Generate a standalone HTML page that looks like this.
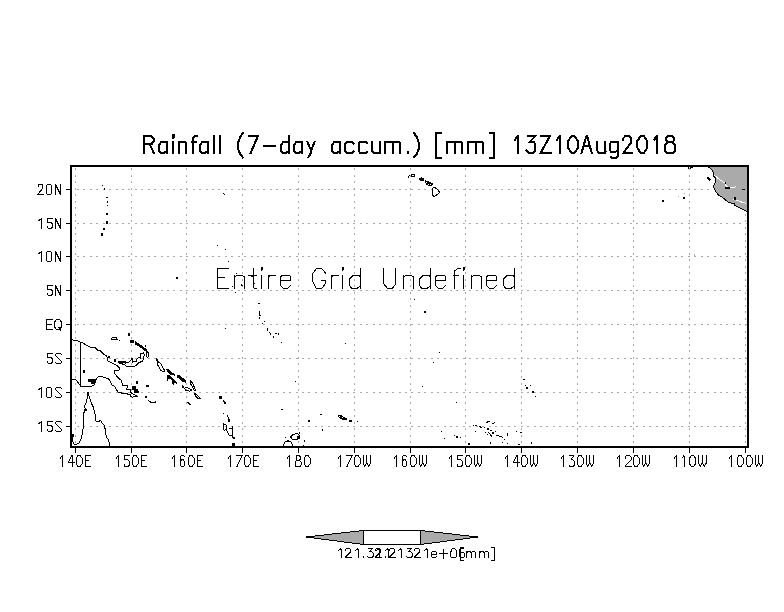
<!DOCTYPE html><html><head><meta charset="utf-8"><style>html,body{margin:0;padding:0;background:#fff;width:784px;height:612px;overflow:hidden}</style></head><body><svg width="784" height="612" viewBox="0 0 784 612" style="display:block" shape-rendering="crispEdges">
<rect x="0" y="0" width="784" height="612" fill="#fff"/>
<path d="M75.5,168V446M131.5,168V446M186.5,168V446M242.5,168V446M298.5,168V446M354.5,168V446M410.5,168V446M465.5,168V446M521.5,168V446M577.5,168V446M633.5,168V446M689.5,168V446M745.5,168V446" stroke="#aaaaaa" stroke-width="1" stroke-dasharray="2 4.5" fill="none"/>
<path d="M77,189.5H747M77,223.5H747M77,256.5H747M77,290.5H747M77,324.5H747M77,358.5H747M77,392.5H747M77,426.5H747" stroke="#aaaaaa" stroke-width="1" stroke-dasharray="2 4.43" fill="none"/>
<polygon points="708.3,166.8 710.3,168.4 712.6,170.7 713.4,173.1 713.8,176.2 715.8,178.5 715.4,181.7 714.6,184 713.4,186.4 714.2,188.7 715.8,191.9 718.5,195 722,197 725.2,199.7 728.3,202.1 732.2,203.3 734.2,203.6 734.6,205.2 737.7,206.8 741.6,208.7 745.6,210.7 746.7,212.3 748,212 748,166 708,166" fill="#aaaaaa" stroke="none"/>
<polyline points="708.3,166.8 710.3,168.4 712.6,170.7 713.4,173.1 713.8,176.2 715.8,178.5 715.4,181.7 714.6,184 713.4,186.4 714.2,188.7 715.8,191.9 718.5,195 722,197 725.2,199.7 728.3,202.1 732.2,203.3 734.2,203.6 734.6,205.2 737.7,206.8 741.6,208.7 745.6,210.7 746.7,212.3" fill="none" stroke="#000" stroke-width="1"/>
<polyline points="714.5,175.4 718.1,178.5 725.2,183.3 726,185.6 728.3,187.6 730.7,187.6 736.2,186.8" fill="none" stroke="#fff" stroke-width="1"/>
<polyline points="733,198.9 740,201.5 746.4,203.6" fill="none" stroke="#fff" stroke-width="1"/>
<polyline points="707.5,177.5 710.5,180.5" fill="none" stroke="#000" stroke-width="2"/>
<rect x="724.5" y="182" width="1" height="2" fill="#000"/><rect x="725" y="187" width="5" height="1.5" fill="#000"/><rect x="741.5" y="188.5" width="3.5" height="1" fill="#000"/><rect x="733.5" y="196.5" width="2" height="3" fill="#000"/>
<g fill="#000"><rect x="688" y="167" width="1" height="2"/><rect x="690" y="167" width="1" height="2"/><rect x="691" y="167" width="1" height="1"/><rect x="692" y="167" width="1" height="1"/></g>
<g fill="#aaaaaa"><rect x="678" y="196" width="1" height="1"/><rect x="684" y="193" width="1" height="1"/><rect x="694" y="254" width="1" height="2"/></g>
<path d="M72.0,339.0L73.3,340.4L77.2,340.7L79.8,342.0L82.4,342.3L85.0,344.3L88.3,346.2L91.6,347.5L94.8,347.5L97.5,350.2L100.4,350.8L103.3,353.8L106.6,356.0L107.3,358.0L107.3,360.7L109.9,361.9L116.1,364.9L119.5,368.0L119.5,369.9L114.5,370.7L114.5,373.4L117.6,377.2L121.6,380.8L122.1,383.0L122.9,385.7L127.4,385.7L126.7,389.3L130.1,389.7L130.5,392.4L131.9,393.3L134.0,394.5L137.7,396.4M72.0,379.7L75.9,379.7L81.2,386.8L85.3,386.8L91.2,386.8L94.7,384.4L95.9,379.7L98.2,376.8L100.0,376.0L103.8,377.2L108.4,378.7L110.0,380.8L111.8,384.8L114.0,385.7L117.6,391.5L118.9,392.6L126.5,393.8L130.5,394.6L131.0,396.4L132.5,397.3L135.0,396.0L137.7,396.4M80.6,342.3L80.6,386.8M72.5,436.0L72.5,441.4L73.9,443.9L76.4,444.4L79.3,442.9L81.3,438.0L82.7,432.1L83.7,423.3L83.2,416.4L84.2,411.5L85.2,409.1L84.7,406.1L86.2,402.7L87.2,397.8L87.5,392.4L88.1,393.9L89.6,397.8L91.1,402.7L93.5,407.6L95.0,413.5L96.0,421.3L98.4,421.8L100.4,420.4L102.4,423.3L104.8,425.7L105.3,432.1L106.8,438.0L108.7,440.0L109.7,445.8M118.3,361.5L125.6,361.5L126.3,362.4L129.4,361.9L131.3,359.6L131.7,358.2L132.5,358.4L132.1,362.2L133.6,361.5L136.3,361.1L137.4,358.4L139.0,357.7L140.5,358.0L140.1,353.8L143.6,352.7L144.3,355.0L143.6,358.0L142.8,360.7L142.0,361.5L139.0,362.6L136.3,365.3L133.2,366.8L128.2,366.8L125.6,365.7L123.7,364.2L120.6,363.8L118.3,362.6L118.3,361.5M118.5,362.5L125.0,362.5L126.0,363.5M119.0,363.2L123.0,363.2M139.0,357.2L140.0,357.2M135.2,341.6L137.4,343.5L139.7,344.6L142.9,346.8L145.6,349.2L148.2,352.2M135.2,342.6L137.4,344.5L139.7,345.6L142.9,347.8L145.3,350.2L147.7,352.6M135.2,343.6L137.0,345.2L139.5,346.4L142.5,348.6L145.0,351.0M146.5,352.0L148.5,352.5L148.7,356.8L147.0,357.2L146.3,355.0L146.5,352.0M111.0,338.5L113.0,337.4L116.5,337.5L117.0,339.2L112.5,339.8L111.0,338.5M156.5,358.2L157.5,364.6L160.9,370.5L163.3,372.0L164.8,371.0L160.9,363.6L157.9,361.7L156.5,358.2M184.4,388.2L187.0,387.2L191.8,390.2L190.0,391.1L186.0,390.5L184.4,388.2M190.3,380.3L193.0,384.0L195.7,390.6L194.0,390.0L191.0,384.5L190.3,380.3M194.2,393.0L197.0,395.0L200.6,398.4L198.0,398.6L195.5,396.0L194.2,393.0M148.3,400.3L151.0,402.5L156.0,402.0M186.6,401.6L191.0,404.8M187.4,401.9L190.3,404.8M223.0,400.3L225.5,403.3M227.3,415.2L229.0,419.5L228.7,421.0M223.1,423.2L226.4,425.5L226.8,429.3L224.0,430.2L223.1,427.4L223.1,423.2M226.4,430.2L229.6,435.8L233.4,434.9M229.2,428.8L232.9,428.8M232.4,425.5L232.4,434.9M232.0,436.7L234.8,439.0M259.5,311.2L259.5,315.2L260.8,315.7M269.3,331.9L271.1,335.4M338.1,415.5L340.0,415.8L342.0,418.0L346.8,419.5M338.5,416.5L341.0,418.5L345.0,419.8M349.0,421.2L351.9,421.2M290.5,437.0L293.0,434.5L297.0,433.3L299.7,436.0L298.0,439.0L292.0,439.0L290.5,437.0M283.0,446.0L285.0,442.0L288.0,440.8L291.0,442.0L292.8,446.0M408.1,177.7L409.7,175.1M411.0,174.5L414.8,174.1L414.0,176.6L411.0,176.6L411.0,174.5M433.4,187.3L436.7,188.4L439.8,192.4L437.2,194.5L434.1,196.5L432.6,195.5L432.6,189.4L433.4,187.3M496.5,435.3L502.8,437.4M489.5,433.2L492.4,437.4M479.1,426.2L482.0,427.9M486.2,422.5L489.9,421.2M492.4,424.1L494.9,422.0M340.0,415.0L346.5,419.0M349.0,420.8L352.0,420.8" fill="none" stroke="#000" stroke-width="1"/>
<g fill="#000"><rect x="128" y="333" width="2" height="3"/><rect x="114" y="359" width="2" height="3"/><rect x="82.7" y="370" width="2" height="3"/><rect x="136" y="381" width="2" height="3"/><rect x="146" y="385" width="3" height="2"/><rect x="145" y="396" width="2" height="1"/><rect x="88" y="379" width="7" height="3"/><rect x="91" y="381" width="4" height="3"/><rect x="108" y="355.7" width="2" height="2"/><rect x="130" y="340" width="4" height="3"/><rect x="145" y="345" width="1" height="2"/><rect x="119" y="340" width="1" height="1"/><rect x="182" y="385.5" width="2" height="2"/><rect x="132" y="386" width="4" height="4"/><rect x="134" y="389" width="4" height="4"/><rect x="136" y="391" width="3" height="2"/><rect x="146" y="385.5" width="1" height="1"/><rect x="145" y="396.5" width="2" height="1"/><rect x="155" y="401" width="1" height="1"/><rect x="182" y="385" width="1" height="1"/><rect x="219" y="396" width="3" height="3"/><rect x="224" y="402" width="2" height="2"/><rect x="223" y="413" width="1" height="1"/><rect x="228" y="420" width="2" height="2"/><rect x="232" y="443" width="3" height="3"/><rect x="232.5" y="437" width="2" height="2"/><rect x="102" y="185" width="1" height="1"/><rect x="104" y="188" width="1" height="2"/><rect x="106" y="197" width="2" height="1"/><rect x="107" y="201" width="1" height="2"/><rect x="107" y="205" width="1" height="1"/><rect x="106" y="213" width="2" height="2"/><rect x="106" y="221" width="2" height="3"/><rect x="103" y="228" width="2" height="2"/><rect x="101" y="233" width="2" height="3"/><rect x="176" y="277" width="2" height="2"/><rect x="217" y="245" width="1" height="1"/><rect x="225" y="249" width="1" height="1"/><rect x="228" y="261" width="1" height="1"/><rect x="235" y="292" width="1" height="1"/><rect x="228" y="261" width="1" height="1"/><rect x="222.5" y="192.5" width="1" height="1"/><rect x="223.5" y="193.5" width="1" height="1"/><rect x="232" y="286" width="1" height="1"/><rect x="251" y="275" width="3" height="2"/><rect x="254" y="283" width="1" height="1"/><rect x="236" y="273" width="1" height="1"/><rect x="240.5" y="283.5" width="1" height="2"/><rect x="241.5" y="284.5" width="1" height="1"/><rect x="258" y="303" width="2" height="1"/><rect x="259" y="317" width="1" height="2"/><rect x="262" y="323" width="1" height="1"/><rect x="264" y="321" width="1" height="1"/><rect x="267" y="328" width="1" height="3"/><rect x="273" y="336" width="1" height="2"/><rect x="275" y="333" width="2" height="1"/><rect x="278" y="333" width="1" height="2"/><rect x="280.5" y="342" width="1" height="1"/><rect x="225" y="328" width="1" height="1"/><rect x="345" y="343" width="1" height="1"/><rect x="294.5" y="381" width="1" height="1"/><rect x="282" y="409" width="1" height="1"/><rect x="320" y="414" width="2" height="1"/><rect x="308" y="420" width="2" height="2"/><rect x="322" y="429" width="1" height="2"/><rect x="281" y="409" width="2" height="1"/><rect x="356.5" y="420.5" width="1" height="1"/><rect x="297" y="436" width="3" height="3"/><rect x="299" y="432" width="1" height="2"/><rect x="284.5" y="437" width="1" height="1"/><rect x="304" y="440" width="1" height="2"/><rect x="303" y="445" width="1" height="1"/><rect x="419" y="178" width="5" height="2"/><rect x="421" y="177" width="1" height="1"/><rect x="420" y="180" width="4" height="1"/><rect x="425" y="180" width="1" height="3"/><rect x="426" y="181" width="3" height="2"/><rect x="427" y="182" width="4" height="1"/><rect x="426" y="183" width="7" height="2"/><rect x="428" y="185" width="4" height="1"/><rect x="414" y="298.5" width="1" height="1"/><rect x="424" y="311" width="2" height="2"/><rect x="344.5" y="343" width="1" height="1"/><rect x="438.5" y="351.5" width="1" height="1"/><rect x="432.5" y="362" width="1" height="1"/><rect x="421.5" y="385.5" width="1" height="1"/><rect x="455.5" y="402" width="1" height="1"/><rect x="440.5" y="431" width="1" height="1"/><rect x="443.5" y="438" width="1" height="1"/><rect x="453.5" y="434.5" width="1" height="1"/><rect x="456" y="436" width="2" height="2"/><rect x="460" y="437" width="1" height="1"/><rect x="467.5" y="443" width="2" height="2"/><rect x="523" y="378.5" width="2" height="1"/><rect x="525" y="384.5" width="1" height="1"/><rect x="530" y="384.5" width="1" height="1"/><rect x="526" y="386.5" width="2" height="2"/><rect x="531.5" y="390.5" width="2" height="2"/><rect x="535" y="395.5" width="1" height="1"/><rect x="473" y="425" width="1" height="1"/><rect x="475" y="425" width="2" height="1"/><rect x="475" y="431" width="1" height="1"/><rect x="484" y="427" width="1" height="1"/><rect x="486.5" y="428" width="2" height="2"/><rect x="489.5" y="429.5" width="2" height="1"/><rect x="485" y="431.5" width="1" height="1"/><rect x="488" y="432" width="1" height="1"/><rect x="492" y="431.5" width="2" height="2"/><rect x="495" y="430.5" width="1" height="1"/><rect x="486.5" y="433.5" width="1" height="1"/><rect x="504" y="439" width="1" height="1"/><rect x="507" y="432.5" width="1" height="3"/><rect x="516" y="431" width="1" height="1"/><rect x="519.5" y="432" width="2" height="1"/><rect x="490" y="441.5" width="1" height="2"/><rect x="502" y="442" width="1" height="1"/><rect x="507" y="443" width="1" height="1"/><rect x="517.5" y="444" width="2" height="1"/><rect x="530.5" y="441.5" width="1" height="2"/><rect x="661.5" y="199.5" width="2" height="2"/><rect x="683" y="196.5" width="2" height="2"/><rect x="72" y="434" width="2" height="3"/><rect x="84.5" y="409" width="2" height="2"/><rect x="87" y="392" width="2" height="2"/><polygon points="166.3,368.8 169,369.5 171,372 174.8,373.8 174.8,375.8 170.5,374.5 167,371.5"/><polygon points="167.3,375 169.5,375.2 173.5,378.5 176.9,382.2 176.5,383.5 174,383 173.5,384.6 172.5,384 171.5,380 168.5,378.5 168,380.8 167,380.5"/><polygon points="176.9,375 179.5,375 183,378 186.9,380.8 185.5,382.8 182.5,381.5 179,378.5 176.9,377.5"/></g>
<g fill="#fff"><rect x="426" y="182" width="1" height="1"/><rect x="428" y="184" width="1" height="1"/><rect x="430" y="184" width="1" height="1"/></g>
<rect x="71" y="166" width="677" height="281" fill="none" stroke="#000" stroke-width="2"/>
<path d="M75.5,448V453M131.5,448V453M186.5,448V453M242.5,448V453M298.5,448V453M354.5,448V453M410.5,448V453M465.5,448V453M521.5,448V453M577.5,448V453M633.5,448V453M689.5,448V453M745.5,448V453M66,189.5H70M66,223.5H70M66,256.5H70M66,290.5H70M66,324.5H70M66,358.5H70M66,392.5H70M66,426.5H70" stroke="#000" stroke-width="1" fill="none"/>
<path d="M60.50,457.92L62.50,455.50V466.50M72.00,466.50V455.50L68.00,462.65H74.50M78.00,455.50H80.00L82.00,458.25V463.75L80.00,466.50H78.00L76.00,463.75V458.25ZM90.50,455.50H85.00V466.50H90.50M85.00,460.45H88.50M116.50,457.92L118.50,455.50V466.50M129.00,455.50H124.00V459.90H128.00L129.00,461.00V465.40L128.00,466.50H125.00L124.00,465.40V464.30M134.00,455.50H136.00L138.00,458.25V463.75L136.00,466.50H134.00L132.00,463.75V458.25ZM146.50,455.50H141.00V466.50H146.50M141.00,460.45H144.50M172.50,457.92L174.50,455.50V466.50M184.50,456.60L183.50,455.50H181.50L180.00,457.15V464.85L181.50,466.50H183.50L184.50,464.85V461.55L183.50,459.90H181.50L180.00,461.00M190.00,455.50H192.00L194.00,458.25V463.75L192.00,466.50H190.00L188.00,463.75V458.25ZM202.50,455.50H197.00V466.50H202.50M197.00,460.45H200.50M228.50,457.92L230.50,455.50V466.50M236.00,455.50H242.00V456.05L237.00,466.50M246.00,455.50H248.00L250.00,458.25V463.75L248.00,466.50H246.00L244.00,463.75V458.25ZM258.50,455.50H253.00V466.50H258.50M253.00,460.45H256.50M287.50,457.92L289.50,455.50V466.50M297.00,455.50H299.00L300.00,456.60V459.35L299.00,460.45H297.00L296.00,459.35V456.60ZM296.50,460.45H299.50L301.00,462.10V465.18L300.00,466.50H296.00L295.00,465.18V462.10ZM306.00,455.50H308.00L310.00,458.25V463.75L308.00,466.50H306.00L304.00,463.75V458.25ZM338.50,457.92L340.50,455.50V466.50M346.00,455.50H352.00V456.05L347.00,466.50M356.00,455.50H358.00L360.00,458.25V463.75L358.00,466.50H356.00L354.00,463.75V458.25ZM363.00,455.50V462.65L364.90,466.50L366.90,462.65V455.50M366.90,462.65L368.90,466.50L370.90,462.65V455.50M394.50,457.92L396.50,455.50V466.50M406.50,456.60L405.50,455.50H403.50L402.00,457.15V464.85L403.50,466.50H405.50L406.50,464.85V461.55L405.50,459.90H403.50L402.00,461.00M412.00,455.50H414.00L416.00,458.25V463.75L414.00,466.50H412.00L410.00,463.75V458.25ZM419.00,455.50V462.65L420.90,466.50L422.90,462.65V455.50M422.90,462.65L424.90,466.50L426.90,462.65V455.50M449.50,457.92L451.50,455.50V466.50M462.00,455.50H457.00V459.90H461.00L462.00,461.00V465.40L461.00,466.50H458.00L457.00,465.40V464.30M467.00,455.50H469.00L471.00,458.25V463.75L469.00,466.50H467.00L465.00,463.75V458.25ZM474.00,455.50V462.65L475.90,466.50L477.90,462.65V455.50M477.90,462.65L479.90,466.50L481.90,462.65V455.50M505.50,457.92L507.50,455.50V466.50M517.00,466.50V455.50L513.00,462.65H519.50M523.00,455.50H525.00L527.00,458.25V463.75L525.00,466.50H523.00L521.00,463.75V458.25ZM530.00,455.50V462.65L531.90,466.50L533.90,462.65V455.50M533.90,462.65L535.90,466.50L537.90,462.65V455.50M561.50,457.92L563.50,455.50V466.50M569.50,455.50H574.00L571.00,459.35H572.50L574.50,461.55V464.85L573.00,466.50H570.00L569.00,464.85M579.00,455.50H581.00L583.00,458.25V463.75L581.00,466.50H579.00L577.00,463.75V458.25ZM586.00,455.50V462.65L587.90,466.50L589.90,462.65V455.50M589.90,462.65L591.90,466.50L593.90,462.65V455.50M617.50,457.92L619.50,455.50V466.50M625.00,458.25V457.15L626.50,455.50H629.50L631.00,457.15V459.90L625.00,465.95V466.50H631.50M635.00,455.50H637.00L639.00,458.25V463.75L637.00,466.50H635.00L633.00,463.75V458.25ZM642.00,455.50V462.65L643.90,466.50L645.90,462.65V455.50M645.90,462.65L647.90,466.50L649.90,462.65V455.50M674.50,457.92L676.50,455.50V466.50M682.00,457.92L684.00,455.50V466.50M691.50,455.50H693.50L695.50,458.25V463.75L693.50,466.50H691.50L689.50,463.75V458.25ZM698.50,455.50V462.65L700.40,466.50L702.40,462.65V455.50M702.40,462.65L704.40,466.50L706.40,462.65V455.50M729.50,457.92L731.50,455.50V466.50M739.00,455.50H741.00L743.00,458.25V463.75L741.00,466.50H739.00L737.00,463.75V458.25ZM748.00,455.50H750.00L752.00,458.25V463.75L750.00,466.50H748.00L746.00,463.75V458.25ZM755.00,455.50V462.65L756.90,466.50L758.90,462.65V455.50M758.90,462.65L760.90,466.50L762.90,462.65V455.50" fill="none" stroke="#000" stroke-width="1" stroke-linejoin="miter" stroke-miterlimit="1.5" stroke-linecap="square"/>
<path d="M38.50,186.50V184.50H42.50V188.50L38.50,193.50L37.50,194.50H43.50M47.50,184.50H50.50L51.50,185.50V193.50L50.50,194.50H47.50L46.50,193.50V185.50ZM55.50,194.50V184.50L60.50,194.50V184.50M39.00,220.50L41.50,218.50V228.50M52.00,218.50H47.50V222.50H51.00L52.00,223.50V227.50L51.00,228.50H48.50L47.50,227.50V226.50M55.50,228.50V218.50L60.50,228.50V218.50M39.00,253.50L41.50,251.50V261.50M47.50,251.50H50.50L51.50,252.50V260.50L50.50,261.50H47.50L46.50,260.50V252.50ZM55.50,261.50V251.50L60.50,261.50V251.50M52.00,285.50H47.50V289.50H51.00L52.00,290.50V294.50L51.00,295.50H48.50L47.50,294.50V293.50M55.50,295.50V285.50L60.50,295.50V285.50M52.50,319.50H46.50V329.50H52.50M46.50,324.50H51.00M56.50,319.50H59.50L61.50,322.00V327.00L59.50,329.50H56.50L54.50,327.00V322.00ZM59.00,327.50L60.50,330.30M52.00,353.50H47.50V357.50H51.00L52.00,358.50V362.50L51.00,363.50H48.50L47.50,362.50V361.50M61.50,354.50L60.50,353.50H56.50L55.50,354.50V355.50L56.50,356.50L60.50,360.50L61.50,361.50V362.50L60.50,363.50H56.50L55.50,362.50M39.00,389.50L41.50,387.50V397.50M47.50,387.50H50.50L51.50,388.50V396.50L50.50,397.50H47.50L46.50,396.50V388.50ZM61.50,388.50L60.50,387.50H56.50L55.50,388.50V389.50L56.50,390.50L60.50,394.50L61.50,395.50V396.50L60.50,397.50H56.50L55.50,396.50M39.00,423.50L41.50,421.50V431.50M52.00,421.50H47.50V425.50H51.00L52.00,426.50V430.50L51.00,431.50H48.50L47.50,430.50V429.50M61.50,422.50L60.50,421.50H56.50L55.50,422.50V423.50L56.50,424.50L60.50,428.50L61.50,429.50V430.50L60.50,431.50H56.50L55.50,430.50" fill="none" stroke="#000" stroke-width="1" stroke-linejoin="miter" stroke-miterlimit="1.5" stroke-linecap="square"/>
<path d="M144.00,153.00V136.00H150.63L153.52,138.04V141.44L151.65,143.99H144.00M149.61,144.33L153.86,153.00M166.99,141.95V153.00M166.99,143.31L165.80,141.95H161.38L159.00,145.01V150.45L160.53,153.00H164.10L166.99,150.96M173.00,141.95V153.00M173.00,134.81V137.53M173.68,135.49V136.85M179.00,141.95V153.00M179.00,143.65L180.36,141.95H184.78L185.97,143.14V153.00M192.85,153.00V138.21L195.06,136.00H196.93M192.00,141.95H195.57M207.99,141.95V153.00M207.99,143.31L206.80,141.95H202.38L200.00,145.01V150.45L201.53,153.00H205.10L207.99,150.96M214.00,136.00V153.00M220.00,136.00V153.00M242.93,132.94L240.04,137.36L238.00,142.80V148.58L240.04,153.68L242.93,157.42M249.00,136.00H257.50V137.02L250.70,153.00M263.70,146.03H274.75M288.99,136.00V153.00M288.99,143.31L287.80,141.95H283.38L281.00,145.01V150.45L282.53,153.00H286.10L288.99,150.96M301.99,141.95V153.00M301.99,143.31L300.80,141.95H296.38L294.00,145.01V150.45L295.53,153.00H299.10L301.99,150.96M307.40,141.95L311.14,150.62M314.54,141.95L311.14,150.62L310.12,155.21L308.08,157.42M339.99,141.95V153.00M339.99,143.31L338.80,141.95H334.38L332.00,145.01V150.45L333.53,153.00H337.10L339.99,150.96M353.50,143.31L352.31,141.95H346.70L345.00,144.16V150.45L346.70,153.00H352.31L353.50,151.64M367.00,143.31L365.81,141.95H360.20L358.50,144.16V150.45L360.20,153.00H365.81L367.00,151.64M372.00,141.95V150.96L373.70,153.00H378.46L379.99,151.64M379.99,141.95V153.00M385.00,141.95V153.00M385.00,143.31L386.19,141.95H391.80L392.99,143.14V153.00M392.99,143.14L394.18,141.95H398.77L399.96,143.14V153.00M407.50,151.81V153.00M414.00,132.94L416.89,137.36L418.93,142.80V148.58L416.89,153.68L414.00,157.42M440.93,132.94H436.00V157.93H440.93M447.00,141.95V153.00M447.00,143.31L448.19,141.95H453.80L454.99,143.14V153.00M454.99,143.14L456.18,141.95H460.77L461.96,143.14V153.00M468.00,141.95V153.00M468.00,143.31L469.19,141.95H474.80L475.99,143.14V153.00M475.99,143.14L477.18,141.95H481.77L482.96,143.14V153.00M490.20,132.94H494.11V157.93H490.20M515.00,139.74L517.55,136.00M517.55,136.00V153.00M527.86,136.00H535.34L529.56,142.12H533.81L535.34,144.16V150.62L533.30,153.00H528.71L526.50,150.28M540.94,136.00H549.95L540.60,153.00H550.63M557.00,139.74L559.55,136.00M559.55,136.00V153.00M571.40,136.00H574.63L578.03,141.10V147.90L574.63,153.00H571.40L568.00,147.90V141.10ZM581.50,153.00L586.43,136.00H587.11L591.70,153.00M583.54,146.20H589.66M597.40,141.95V150.96L599.10,153.00H603.86L605.39,151.64M605.39,141.95V153.00M617.93,141.95V156.06L616.40,157.93H612.32L611.13,156.74M617.93,143.31L616.74,141.95H611.30L609.60,144.16V149.94L611.30,152.15H615.04L617.93,150.45M623.40,140.42V138.21L625.27,136.00H629.18L631.05,138.21V142.46L623.40,153.00H631.73M640.70,136.00H643.93L647.33,141.10V147.90L643.93,153.00H640.70L637.30,147.90V141.10ZM654.20,139.74L656.75,136.00M656.75,136.00V153.00M667.68,136.00H672.44L673.97,137.70V140.42L672.44,142.12H667.68L666.15,140.42V137.70ZM667.68,142.12H672.44L674.82,144.84V150.96L673.12,153.00H667.00L665.30,150.96V144.84Z" fill="none" stroke="#000" stroke-width="2" stroke-linejoin="miter" stroke-miterlimit="4" stroke-linecap="square"/>
<path d="M228.54,268.50H217.50V288.50H228.54M217.50,277.50H224.94M234.50,275.50V288.50M234.50,277.50L236.42,275.50H242.66L244.34,276.90V288.50M253.54,268.50V287.50L254.74,288.50H256.66M248.50,275.40H256.66M261.50,275.50V288.50M261.50,267.10V270.30M262.46,267.90V269.50M268.50,275.10V288.50M268.50,277.50L269.94,275.40H275.94M280.50,280.50H290.82V277.10L289.14,275.40H282.18L280.50,277.10V285.50L283.38,288.50H287.46L290.82,285.30M325.94,273.70L321.86,268.50H316.58L312.50,273.90V281.10L316.10,288.50H321.86L325.94,282.90V280.30H321.14M331.50,275.10V288.50M331.50,277.50L332.94,275.40H338.94M342.50,275.50V288.50M342.50,267.10V270.30M343.46,267.90V269.50M360.78,268.50V288.50M360.78,277.10L359.10,275.50H352.86L349.50,279.10V285.50L351.66,288.50H356.70L360.78,286.10M383.50,268.50V283.50L387.58,288.50H392.14L395.98,283.50V268.50M403.50,275.50V288.50M403.50,277.50L405.42,275.50H411.66L413.34,276.90V288.50M430.78,268.50V288.50M430.78,277.10L429.10,275.50H422.86L419.50,279.10V285.50L421.66,288.50H426.70L430.78,286.10M435.50,280.50H445.82V277.10L444.14,275.40H437.18L435.50,277.10V285.50L438.38,288.50H442.46L445.82,285.30M454.50,288.50V271.10L457.62,268.50H460.26M453.30,275.50H458.34M463.50,275.50V288.50M463.50,267.10V270.30M464.46,267.90V269.50M471.50,275.50V288.50M471.50,277.50L473.42,275.50H479.66L481.34,276.90V288.50M486.50,280.50H496.82V277.10L495.14,275.40H488.18L486.50,277.10V285.50L489.38,288.50H493.46L496.82,285.30M514.78,268.50V288.50M514.78,277.10L513.10,275.50H506.86L503.50,279.10V285.50L505.66,288.50H510.70L514.78,286.10" fill="none" stroke="#000" stroke-width="1" stroke-linejoin="miter" stroke-miterlimit="1.5" stroke-linecap="square"/>
<polygon points="306,537 363.5,530.5 363.5,544.5" fill="#aaaaaa" stroke="#000" stroke-width="1"/>
<polygon points="478,537 420.5,530.5 420.5,544.5" fill="#aaaaaa" stroke="#000" stroke-width="1"/>
<rect x="363.5" y="530.5" width="57" height="14" fill="#fff" stroke="#000" stroke-width="1"/>
<path d="M338.50,550.50L341.00,548.50V557.50M345.50,550.50V549.50L346.50,548.50H349.50L350.50,549.50V552.00L345.50,557.00V557.50H351.50M355.50,550.50L358.00,548.50V557.50M363.50,556.80V557.50M368.00,548.50H372.50L369.50,551.50H371.50L373.00,553.00V556.50L372.00,557.50H368.50L367.50,556.50M375.50,550.50V549.50L376.50,548.50H379.50L380.50,549.50V552.00L375.50,557.00V557.50H381.50M385.50,550.50L388.00,548.50V557.50M376.50,550.50L379.00,548.50V557.50M385.50,556.80V557.50M389.50,550.50V549.50L390.50,548.50H393.50L394.50,549.50V552.00L389.50,557.00V557.50H395.50M398.50,550.50L401.00,548.50V557.50M407.00,548.50H411.50L408.50,551.50H410.50L412.00,553.00V556.50L411.00,557.50H407.50L406.50,556.50M414.50,550.50V549.50L415.50,548.50H418.50L419.50,549.50V552.00L414.50,557.00V557.50H420.50M424.50,550.50L427.00,548.50V557.50M431.50,554.50H436.50V553.00L435.50,551.50H432.50L431.50,553.00V556.50L432.50,557.50H435.50L436.50,556.50M439.50,553.50H447.50M443.50,549.50V558.00M452.50,548.50H454.50L456.00,550.00V551.50L456.50,552.50V556.50L455.50,557.50H451.50L450.50,556.50V552.50L451.00,551.50V550.00ZM464.00,549.00L463.50,548.50H461.00L459.50,550.00V556.50L460.50,557.50H463.50L464.50,556.50V553.50L463.50,552.50H460.50L459.50,553.50M463.50,547.50H460.50V560.50H463.50M466.50,551.50V557.50M467.50,551.80L467.80,551.50H470.00L471.00,552.50V557.50M472.00,551.80L472.30,551.50H474.50L475.50,552.50V557.50M479.50,551.50V557.50M480.50,551.80L480.80,551.50H483.00L484.00,552.50V557.50M485.00,551.80L485.30,551.50H487.50L488.50,552.50V557.50M491.50,547.50H494.50V560.50H491.50" fill="none" stroke="#000" stroke-width="1" stroke-linejoin="miter" stroke-miterlimit="1.5" stroke-linecap="square"/>
</svg></body></html>
